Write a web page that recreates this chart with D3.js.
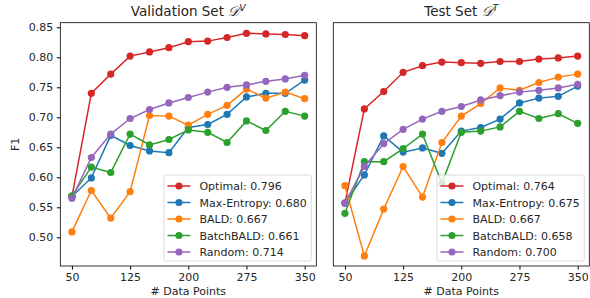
<!DOCTYPE html>
<html>
<head>
<meta charset="utf-8">
<script src="https://cdn.jsdelivr.net/npm/d3@7"></script>
<style>
  body { margin: 0; background: #fff; }
  text { font-family: "DejaVu Sans", sans-serif; fill: #262626; }
</style>
</head>
<body>
<div id="chart"></div>
<script>
// number of labelled data points
const points = [50, 75, 100, 125, 150, 175, 200, 225, 250, 275, 300, 325, 350];
const xTicks = [50, 125, 200, 275, 350];
const yTicks = [0.50, 0.55, 0.60, 0.65, 0.70, 0.75, 0.80, 0.85];

const methods = ["Optimal", "Max-Entropy", "BALD", "BatchBALD", "Random"];
const colors = ["#d62728", "#1f77b4", "#ff7f0e", "#2ca02c", "#9467bd"];

// validation set F1
const valOptimal = [0.568, 0.740, 0.772, 0.802, 0.809, 0.816, 0.826, 0.827, 0.833, 0.840, 0.839, 0.838, 0.836];
const valMaxEnt  = [0.568, 0.599, 0.670, 0.653, 0.644, 0.641, 0.683, 0.688, 0.705, 0.734, 0.740, 0.740, 0.762];
const valBald    = [0.509, 0.578, 0.532, 0.576, 0.703, 0.702, 0.687, 0.705, 0.720, 0.747, 0.732, 0.742, 0.731];
const valBatch   = [0.569, 0.617, 0.608, 0.672, 0.654, 0.663, 0.679, 0.675, 0.658, 0.694, 0.678, 0.710, 0.702];
const valRandom  = [0.565, 0.633, 0.672, 0.698, 0.713, 0.724, 0.733, 0.742, 0.750, 0.754, 0.760, 0.764, 0.770];
const valScores  = ["0.796", "0.680", "0.667", "0.661", "0.714"];

// test set F1
const testOptimal = [0.557, 0.714, 0.743, 0.775, 0.786, 0.792, 0.791, 0.790, 0.793, 0.793, 0.797, 0.799, 0.802];
const testMaxEnt  = [0.557, 0.604, 0.669, 0.642, 0.649, 0.640, 0.677, 0.683, 0.697, 0.724, 0.732, 0.735, 0.752];
const testBald    = [0.586, 0.469, 0.547, 0.618, 0.567, 0.658, 0.702, 0.723, 0.749, 0.745, 0.758, 0.767, 0.772];
const testBatch   = [0.540, 0.626, 0.626, 0.648, 0.672, 0.590, 0.675, 0.677, 0.684, 0.710, 0.698, 0.706, 0.690];
const testRandom  = [0.557, 0.618, 0.656, 0.680, 0.697, 0.710, 0.718, 0.729, 0.736, 0.742, 0.745, 0.749, 0.755];
const testScores  = ["0.764", "0.675", "0.667", "0.658", "0.700"];

const width = 590, height = 298;
const plotTop = 22.7, plotBottom = 266;

const svg = d3.select("#chart").append("svg")
  .attr("width", width).attr("height", height);

const y = d3.scaleLinear().domain([0.4522, 0.8577]).range([plotBottom, plotTop]);

const panels = [
  { left: 60.3, right: 316.3, title: "Validation Set ", sup: "V", showY: true,
    series: [valOptimal, valMaxEnt, valBald, valBatch, valRandom], scores: valScores },
  { left: 333.3, right: 589.3, title: "Test Set ", sup: "T", showY: false,
    series: [testOptimal, testMaxEnt, testBald, testBatch, testRandom], scores: testScores }
];

panels.forEach(p => {
  const x = d3.scaleLinear().domain([35, 365]).range([p.left, p.right]);
  const g = svg.append("g");

  // lines + markers
  p.series.forEach((vals, i) => {
    const data = points.map((d, j) => [d, vals[j]]);
    g.append("path")
      .datum(data)
      .attr("fill", "none")
      .attr("stroke", colors[i])
      .attr("stroke-width", 1.5)
      .attr("d", d3.line().x(d => x(d[0])).y(d => y(d[1])));
    g.selectAll(null)
      .data(data)
      .enter()
      .append("circle")
      .attr("cx", d => x(d[0]))
      .attr("cy", d => y(d[1]))
      .attr("r", 3.6)
      .attr("fill", colors[i]);
  });

  // frame
  g.append("rect")
    .attr("x", p.left).attr("y", plotTop)
    .attr("width", p.right - p.left).attr("height", plotBottom - plotTop)
    .attr("fill", "none").attr("stroke", "#000").attr("stroke-width", 0.8);

  // x axis
  const xAxis = g.append("g")
    .attr("transform", `translate(0,${plotBottom})`)
    .call(d3.axisBottom(x).tickValues(xTicks).tickSize(3.5).tickPadding(3.5).tickFormat(d3.format("d")));
  xAxis.select(".domain").remove();
  xAxis.selectAll("text").style("font-size", "11px").style("font-family", "DejaVu Sans").attr("fill", "#262626");

  g.append("text")
    .attr("x", (p.left + p.right) / 2).attr("y", 295)
    .attr("text-anchor", "middle").style("font-size", "11px")
    .text("# Data Points");

  if (p.showY) {
    const yAxis = g.append("g")
      .attr("transform", `translate(${p.left},0)`)
      .call(d3.axisLeft(y).tickValues(yTicks).tickSize(3.5).tickPadding(3.5).tickFormat(d3.format(".2f")));
    yAxis.select(".domain").remove();
    yAxis.selectAll("text").style("font-size", "11px").style("font-family", "DejaVu Sans").attr("fill", "#262626");
    g.append("text")
      .attr("transform", `translate(19,${(plotTop + plotBottom) / 2}) rotate(-90)`)
      .attr("text-anchor", "middle").style("font-size", "11px")
      .text("F1");
  }

  // title
  const t = g.append("text")
    .attr("x", (p.left + p.right) / 2).attr("y", 16)
    .attr("text-anchor", "middle").style("font-size", "13.5px");
  t.append("tspan").text(p.title);
  t.append("tspan").style("font-family", "DejaVu Serif, serif").style("font-style", "italic").text("\u{1D49F}");
  t.append("tspan").attr("dy", -5).style("font-size", "9.5px").style("font-style", "italic").text(p.sup);

  // legend, lower right
  const lg = g.append("g");
  const labels = methods.map((m, i) => `${m}: ${p.scores[i]}`);
  const texts = lg.selectAll("text").data(labels).enter().append("text")
    .style("font-size", "11px").text(d => d);
  let maxW = 0;
  texts.each(function() { maxW = Math.max(maxW, this.getComputedTextLength()); });
  const boxW = 35.5 + maxW + 4.5, boxH = 86;
  const bx = p.right - 5 - boxW, by = plotBottom - 5 - boxH;
  lg.insert("rect", "text")
    .attr("x", bx).attr("y", by).attr("width", boxW).attr("height", boxH)
    .attr("rx", 2.5).attr("fill", "rgba(255,255,255,0.8)")
    .attr("stroke", "#d0d0d0").attr("stroke-width", 0.8);
  labels.forEach((l, i) => {
    const cy = by + 11 + i * 16.5;
    lg.append("line")
      .attr("x1", bx + 3.5).attr("x2", bx + 26.5).attr("y1", cy).attr("y2", cy)
      .attr("stroke", colors[i]).attr("stroke-width", 1.5);
    lg.append("circle").attr("cx", bx + 15).attr("cy", cy).attr("r", 3.6).attr("fill", colors[i]);
  });
  texts.attr("x", bx + 35.5).attr("y", (d, i) => by + 11 + i * 16.5 + 4);
});
</script>
</body>
</html>
